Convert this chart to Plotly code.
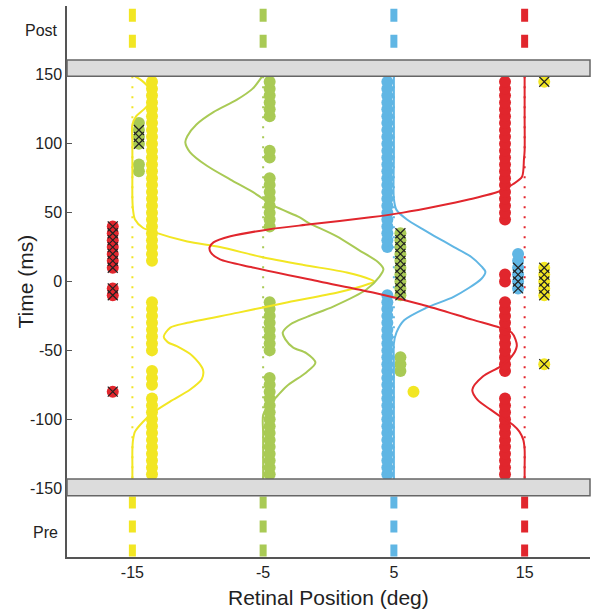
import numpy as np
import plotly.graph_objects as go

# ---------------- colours ----------------
YELLOW = "#F2E623"
GREEN = "#A9CA55"
BLUE = "#60B6E4"
RED = "#E1262D"
AXIS = "#555555"

# ---------------- axes / ticks ----------------
x_tick_vals = [-15, -5, 5, 15]
x_tick_text = ["-15", "-5", "5", "15"]
y_tick_vals = [200, 150, 100, 50, 0, -50, -100, -150]
y_tick_text = ["", "150", "100", "50", "0", "-50", "-100", "-150"]
post_label_t = 182
pre_label_t = -182

# saccade target positions (deg) and their colours
target_x = [-15, -5, 5, 15]
target_colors = [YELLOW, GREEN, BLUE, RED]

# grey break bands (ms)
band_top = [149.0, 160.8]
band_bottom = [-155.6, -143.4]

# ---------------- curves: (time ms, position deg) ----------------
yellow_curve_t = [150, 146, 140, 133, 126, 120, 114, 100, 80, 60, 52, 45, 39, 36, 29, 25, 18, 12, 6.5,
                  1.5, 0, -2, -8, -15, -22.6, -30, -33.5, -40, -44, -47, -54, -64, -71, -78.6, -87,
                  -95, -102, -109, -115, -122, -135, -143.4]
yellow_curve_x = [-15.0, -14.3, -13.7, -13.5, -14.0, -14.7, -15.0, -15.0, -15.0, -15.0, -14.95, -14.8,
                  -14.2, -13.4, -10.8, -8.3, -5.2, -1.9, 1.4, 3.2, 3.5, 3.0, 0.7, -3.1, -6.9, -10.8,
                  -12.1, -12.6, -12.3, -11.6, -10.4, -9.6, -9.7, -10.6, -12.1, -13.4, -14.2, -14.8,
                  -14.95, -15.0, -15.0, -15.0]

green_curve_t = [150, 140, 132, 123, 114, 105.5, 101, 94, 84, 74, 65, 55, 46.6, 43, 33, 23, 14, 9, 3.6,
                 -5.8, -18, -25.5, -31, -37, -42, -48, -52, -59, -66, -76, -84, -90, -97, -110, -130,
                 -143.4]
green_curve_x = [-5.0, -5.8, -7.0, -8.8, -10.1, -10.8, -10.95, -10.6, -9.3, -7.5, -5.8, -4.2, -2.2, -1.6,
                 0.6, 2.3, 3.8, 4.2, 3.9, 2.9, 0.4, -1.6, -2.9, -3.5, -3.3, -2.7, -1.7, -1.0, -1.7, -3.2,
                 -4.0, -4.6, -5.0, -5.0, -5.0, -5.0]

blue_curve_t = [150, 120, 90, 60, 52, 45, 38, 33, 25, 18, 11, 7, 2, -11, -19, -28, -37, -45, -60, -100,
                -143.4]
blue_curve_x = [5.0, 5.0, 5.0, 5.0, 5.2, 6.0, 7.2, 8.1, 9.6, 10.9, 11.7, 12.0, 11.7, 9.6, 7.5, 5.8, 5.2,
                5.0, 5.0, 5.0, 5.0]

red_curve_t = [150, 120, 95, 89, 76, 70.6, 65.5, 59.7, 54.6, 50, 46.6, 41.5, 37.8, 32.8, 28.4, 24.7, 21,
               16, 10.2, 0, -8, -16.7, -27.7, -33.5, -37, -42, -47, -54.6, -62, -69, -78.6, -86, -93,
               -99, -104, -109, -115, -122, -135, -143.4]
red_curve_x = [15.0, 15.0, 15.0, 14.95, 14.8, 14.1, 13.1, 10.8, 8.3, 5.7, 3.2, -1.4, -4.6, -7.5, -8.8,
               -9.1, -9.0, -8.3, -5.8, -0.7, 3.4, 7.1, 11.0, 13.1, 14.0, 14.3, 14.4, 14.0, 13.1, 11.8,
               11.0, 11.4, 12.4, 13.3, 14.1, 14.6, 14.9, 15.0, 15.0, 15.0]

# ---------------- dot columns: x (deg), first and last sample time (ms) ----------------
SAMPLE_MS = 5  # spacing of samples within a column

yellow_col_x = [-13.5, -13.5, -13.5, -13.5, 6.5, 16.5, 16.5, 16.5]
yellow_col_t0 = [15, -50, -75, -140, -80, -10, -60, 145]
yellow_col_t1 = [145, -15, -65, -85, -80, 10, -60, 145]
yellow_cross_x = [16.5, 16.5, 16.5]
yellow_cross_t0 = [-10, -60, 145]
yellow_cross_t1 = [10, -60, 145]

green_col_x = [-4.5, -4.5, -4.5, -4.5, -4.5, 5.5, 5.5, -14.5, -14.5]
green_col_t0 = [120, 90, 40, -50, -140, -10, -65, 100, 80]
green_col_t1 = [145, 95, 75, -15, -70, 35, -55, 115, 85]
green_cross_x = [5.5, -14.5]
green_cross_t0 = [-10, 100]
green_cross_t1 = [35, 110]

blue_col_x = [4.5, 4.5, 14.5]
blue_col_t0 = [25, -140, -5]
blue_col_t1 = [145, -10, 20]
blue_cross_x = [14.5]
blue_cross_t0 = [-5]
blue_cross_t1 = [10]

red_col_x = [13.5, 13.5, 13.5, 13.5, -16.5, -16.5, -16.5]
red_col_t0 = [45, 0, -65, -140, 10, -10, -80]
red_col_t1 = [145, 5, -15, -85, 40, -5, -80]
red_cross_x = [-16.5, -16.5, -16.5]
red_cross_t0 = [10, -10, -80]
red_cross_t1 = [40, -5, -80]

# Post / Pre dashed target markers (ms extents)
post_dash_t = [198, 169.6]
pre_dash_t = [-156, -200]


def expand(xs, t0s, t1s):
    X, T = [], []
    for x, a, b in zip(xs, t0s, t1s):
        for t in np.arange(a, b + 0.1, SAMPLE_MS):
            X.append(x)
            T.append(float(t))
    return X, T


fig = go.Figure()

# thin dotted target lines
for tx, c in zip(target_x, target_colors):
    fig.add_trace(go.Scatter(x=[tx, tx], y=[band_top[0], band_bottom[1]], mode="lines",
                             line=dict(color=c, width=2, dash="2px,8px"), hoverinfo="skip"))

# Post / Pre thick dashed markers
for tx, c in zip(target_x, target_colors):
    fig.add_trace(go.Scatter(x=[tx, tx], y=post_dash_t, mode="lines",
                             line=dict(color=c, width=7, dash="13px,13px"), hoverinfo="skip"))
    fig.add_trace(go.Scatter(x=[tx, tx], y=pre_dash_t, mode="lines",
                             line=dict(color=c, width=7, dash="12px,12px"), hoverinfo="skip"))

# dot columns
for xs, t0, t1, c in [(yellow_col_x, yellow_col_t0, yellow_col_t1, YELLOW),
                      (green_col_x, green_col_t0, green_col_t1, GREEN),
                      (blue_col_x, blue_col_t0, blue_col_t1, BLUE),
                      (red_col_x, red_col_t0, red_col_t1, RED)]:
    X, T = expand(xs, t0, t1)
    fig.add_trace(go.Scatter(x=X, y=T, mode="markers",
                             marker=dict(color=c, size=12, line=dict(width=0)), hoverinfo="skip"))

# curves
for tt, xx, c in [(yellow_curve_t, yellow_curve_x, YELLOW),
                  (green_curve_t, green_curve_x, GREEN),
                  (blue_curve_t, blue_curve_x, BLUE),
                  (red_curve_t, red_curve_x, RED)]:
    fig.add_trace(go.Scatter(x=xx, y=tt, mode="lines",
                             line=dict(color=c, width=2, shape="spline", smoothing=0.8),
                             hoverinfo="skip"))

# crosses
for xs, t0, t1 in [(yellow_cross_x, yellow_cross_t0, yellow_cross_t1),
                   (green_cross_x, green_cross_t0, green_cross_t1),
                   (blue_cross_x, blue_cross_t0, blue_cross_t1),
                   (red_cross_x, red_cross_t0, red_cross_t1)]:
    X, T = expand(xs, t0, t1)
    fig.add_trace(go.Scatter(x=X, y=T, mode="markers",
                             marker=dict(symbol="x-thin", size=10, color="#222222",
                                         line=dict(width=1.2, color="#222222")),
                             hoverinfo="skip"))

# grey bands
for y0, y1 in [band_top, band_bottom]:
    fig.add_shape(type="rect", xref="paper", yref="y", x0=0, x1=1, y0=y0, y1=y1,
                  fillcolor="#DCDCDC", line=dict(color="#666666", width=1.5), layer="above")

FONT = "Liberation Sans, Arial, Helvetica, sans-serif"

fig.add_annotation(text="Post", xref="paper", x=0, xanchor="right", xshift=-7,
                   yref="y", y=post_label_t, yanchor="middle", showarrow=False,
                   font=dict(size=16, color="#222"))
fig.add_annotation(text="Pre", xref="paper", x=0, xanchor="right", xshift=-7,
                   yref="y", y=pre_label_t, yanchor="middle", showarrow=False,
                   font=dict(size=16, color="#222"))
fig.add_annotation(text="Time (ms)", xref="paper", x=0, xanchor="center", xshift=-42,
                   yref="paper", y=0.5, yanchor="middle",
                   textangle=-90, showarrow=False, font=dict(size=21, color="#222"))
fig.add_annotation(text="Retinal Position (deg)", xref="paper", x=0.5, xanchor="center",
                   yref="paper", y=0, yanchor="middle",
                   yshift=-40, showarrow=False, font=dict(size=21, color="#222"))

fig.update_layout(
    width=598, height=613,
    margin=dict(l=67, r=8, t=6, b=56),
    paper_bgcolor="white", plot_bgcolor="white",
    showlegend=False,
    font=dict(family=FONT, color="#222"),
    xaxis=dict(range=[-20, 20], tickvals=x_tick_vals, ticktext=x_tick_text, ticks="",
               showline=True, linecolor=AXIS, linewidth=1.5, showgrid=False, zeroline=False,
               tickfont=dict(size=16), fixedrange=True),
    yaxis=dict(range=[-200, 200], tickvals=y_tick_vals, ticktext=y_tick_text, ticks="inside",
               ticklen=5, tickcolor=AXIS, showline=True, linecolor=AXIS, linewidth=1.5,
               showgrid=False, zeroline=False, tickfont=dict(size=16), fixedrange=True),
)

fig.write_html("out.html", config={"displayModeBar": False},
               post_script="document.body.style.margin='0px';")
